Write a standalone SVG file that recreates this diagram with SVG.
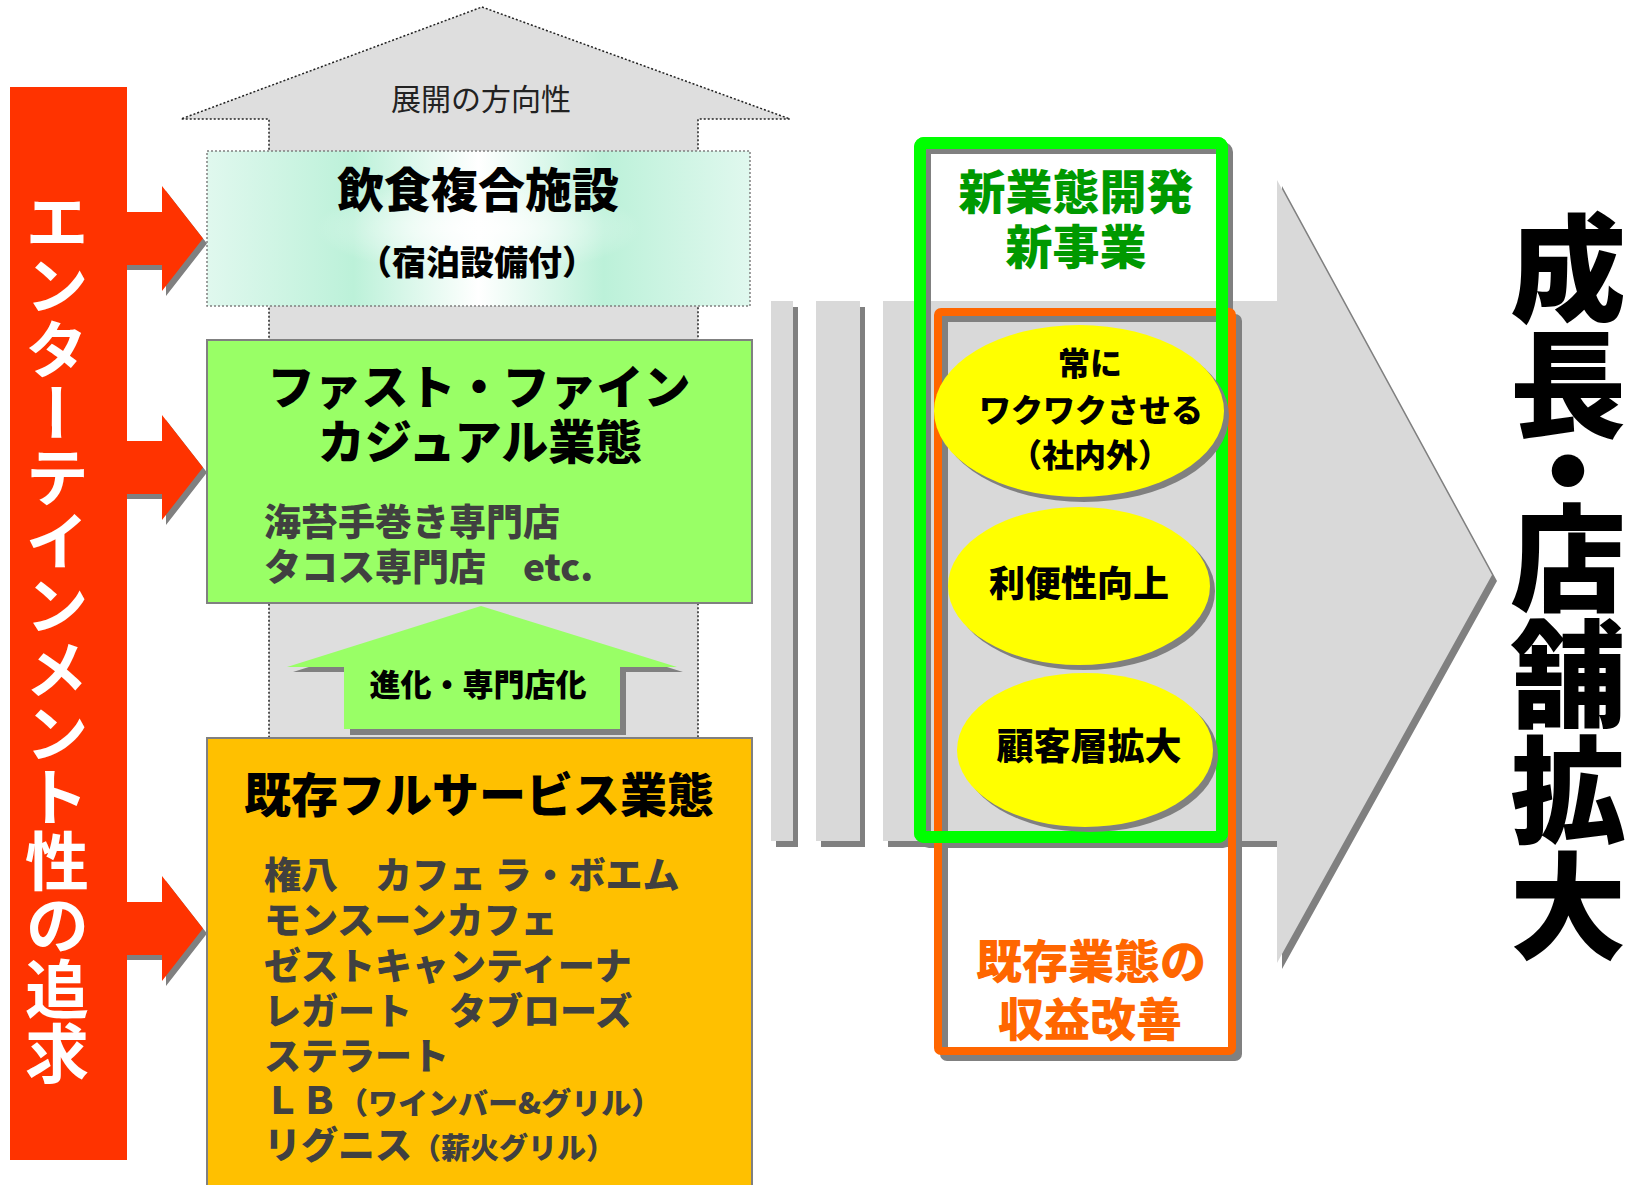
<svg xmlns="http://www.w3.org/2000/svg" width="1640" height="1185" viewBox="0 0 1640 1185">
<defs>
<linearGradient id="mint" x1="0" y1="0" x2="1" y2="0">
<stop offset="0" stop-color="#e0f8ee"/>
<stop offset="0.27" stop-color="#bcf1d9"/>
<stop offset="0.5" stop-color="#ffffff"/>
<stop offset="0.73" stop-color="#bcf1d9"/>
<stop offset="1" stop-color="#e0f8ee"/>
</linearGradient>
<radialGradient id="glow" cx="0.5" cy="0.5" r="0.5">
<stop offset="0" stop-color="#ffffff" stop-opacity="0.9"/>
<stop offset="0.6" stop-color="#ffffff" stop-opacity="0"/>
</radialGradient>
<style>
text{font-family:'Noto Sans CJK JP','Noto Sans CJK SC',sans-serif;}
.h{font-weight:900;fill:#000;text-anchor:middle;}
.b{font-weight:900;fill:#404040;}
.v{writing-mode:vertical-rl;}
.g{font-size:116px;font-weight:900;fill:#000;}
.sh{fill:#808080;}
.st{fill:#d9d9d9;}
</style>
</defs>
<rect width="1640" height="1185" fill="#ffffff"/>

<!-- big gray direction arrow -->
<g id="direction-arrow">
<polygon points="482,7 790,119 698,119 698,738 269,738 269,119 181,119" fill="#dedede" stroke="#222" stroke-width="1.5" stroke-dasharray="2,2"/>
<text x="481" y="110" font-size="30" fill="#222" text-anchor="middle">展開の方向性</text>
</g>

<!-- big right arrow and stripes -->
<g id="growth-arrow">
<rect class="sh" x="776" y="307" width="22" height="540"/>
<rect class="st" x="771" y="301" width="22" height="540"/>
<rect class="sh" x="821" y="307" width="44" height="540"/>
<rect class="st" x="816" y="301" width="44" height="540"/>
<polygon class="sh" points="888,307 1282,307 1282,186 1497,581 1282,969 1282,847 888,847"/>
<polygon class="st" points="883,301 1277,301 1277,180 1492,575 1277,963 1277,841 883,841"/>
</g>

<!-- red entertainment bar and arrows -->
<g id="entertainment">
<polygon class="sh" points="124,243 166,243 166,191 207,243.5 166,296 166,270 124,270"/>
<polygon class="sh" points="124,472 166,472 166,420 207,472.5 166,525 166,499 124,499"/>
<polygon class="sh" points="124,933 166,933 166,881 207,933.5 166,986 166,960 124,960"/>
<polygon fill="#ff3300" points="120,212 162,212 162,186 203,238.5 162,291 162,265 120,265"/>
<polygon fill="#ff3300" points="120,441 162,441 162,415 203,467.5 162,520 162,494 120,494"/>
<polygon fill="#ff3300" points="120,902 162,902 162,876 203,928.5 162,981 162,955 120,955"/>
<rect x="10" y="87" width="117" height="1073" fill="#ff3300"/>
<text class="v" x="57" y="189" font-size="64" font-weight="700" fill="#ffffff">エンターテインメント性の追求</text>
</g>

<!-- complex facility -->
<g id="complex-facility">
<rect x="207" y="151" width="543" height="155" fill="url(#mint)"/>
<rect x="207" y="151" width="543" height="155" fill="url(#glow)" stroke="#808080" stroke-width="1.5" stroke-dasharray="2,2"/>
<text class="h" x="478" y="207" font-size="47">飲食複合施設</text>
<text class="h" x="477" y="275" font-size="34">（宿泊設備付）</text>
</g>

<!-- fast fine casual -->
<g id="fast-fine-casual">
<rect x="207" y="340" width="545" height="263" fill="#99ff66" stroke="#808080" stroke-width="2"/>
<text class="h" x="479" y="404" font-size="47">ファスト・ファイン</text>
<text class="h" x="480" y="459" font-size="47">カジュアル業態</text>
<text class="b" x="264" y="536" font-size="37">海苔手巻き専門店</text>
<text class="b" x="264" y="581" font-size="37">タコス専門店　etc.</text>
</g>

<!-- evolution arrow -->
<g id="evolution-arrow">
<polygon class="sh" points="486,611 683,672 626,672 626,735 350,735 350,672 293,672"/>
<polygon fill="#99ff66" points="481,606 677,667 620,667 620,729 344,729 344,667 287,667"/>
<text class="h" x="478" y="696" font-size="31">進化・専門店化</text>
</g>

<!-- existing full service -->
<g id="full-service">
<rect x="207" y="738" width="545" height="460" fill="#ffc000" stroke="#808080" stroke-width="2"/>
<text class="h" x="479" y="812" font-size="47">既存フルサービス業態</text>
<g class="b" font-size="37">
<text x="264" y="889">権八　カフェ ラ・ボエム</text>
<text x="264" y="934">モンスーンカフェ</text>
<text x="264" y="980">ゼストキャンティーナ</text>
<text x="264" y="1025">レガート　タブローズ</text>
<text x="264" y="1070">ステラート</text>
<text x="264" y="1114">ＬＢ<tspan font-size="30">（ワインバー&amp;グリル）</tspan></text>
<text x="264" y="1159">リグニス<tspan font-size="29">（薪火グリル）</tspan></text>
</g>
</g>

<!-- new business frame -->
<g id="new-business">
<rect x="925" y="148" width="302" height="694" rx="4" fill="none" stroke="#808080" stroke-width="12"/>
<rect x="920" y="143" width="302" height="694" rx="4" fill="none" stroke="#00ff00" stroke-width="12"/>
<text x="1076" y="209" font-size="47" font-weight="900" fill="#009900" text-anchor="middle">新業態開発</text>
<text x="1076" y="264" font-size="47" font-weight="900" fill="#009900" text-anchor="middle">新事業</text>
</g>

<!-- existing improvement frame -->
<g id="existing-improvement">
<rect x="944" y="318" width="294" height="739" rx="3" fill="none" stroke="#808080" stroke-width="8"/>
<rect x="938" y="312" width="294" height="739" rx="3" fill="none" stroke="#ff6600" stroke-width="8"/>
<text x="1091" y="978" font-size="46" font-weight="900" fill="#ff6600" text-anchor="middle">既存業態の</text>
<text x="1090" y="1036" font-size="46" font-weight="900" fill="#ff6600" text-anchor="middle">収益改善</text>
</g>

<!-- green frame over orange -->
<g id="green-frame-top">
<rect x="920" y="143" width="302" height="694" rx="4" fill="none" stroke="#00ff00" stroke-width="12"/>
</g>

<!-- ellipses -->
<g id="excite">
<ellipse class="sh" cx="1084" cy="416" rx="145" ry="86"/>
<ellipse cx="1079" cy="411" rx="145" ry="86" fill="#ffff00"/>
<text class="h" x="1090" y="375" font-size="32" font-weight="700">常に</text>
<text class="h" x="1091" y="422" font-size="32" font-weight="700">ワクワクさせる</text>
<text class="h" x="1090" y="467" font-size="32" font-weight="700">（社内外）</text>
</g>
<g id="convenience">
<ellipse class="sh" cx="1084" cy="591" rx="131" ry="79"/>
<ellipse cx="1079" cy="586" rx="131" ry="79" fill="#ffff00"/>
<text class="h" x="1079" y="597" font-size="36" font-weight="700">利便性向上</text>
</g>
<g id="customers">
<ellipse class="sh" cx="1090" cy="755" rx="128" ry="77"/>
<ellipse cx="1085" cy="750" rx="128" ry="77" fill="#ffff00"/>
<text class="h" x="1089" y="760" font-size="37" font-weight="700">顧客層拡大</text>
</g>

<!-- growth label -->
<g id="growth-label">
<text class="v g" x="1568" y="210">成長</text>
<text class="v g" x="1568" y="413">・</text>
<text class="v g" x="1568" y="500">店舗拡大</text>
</g>
</svg>
